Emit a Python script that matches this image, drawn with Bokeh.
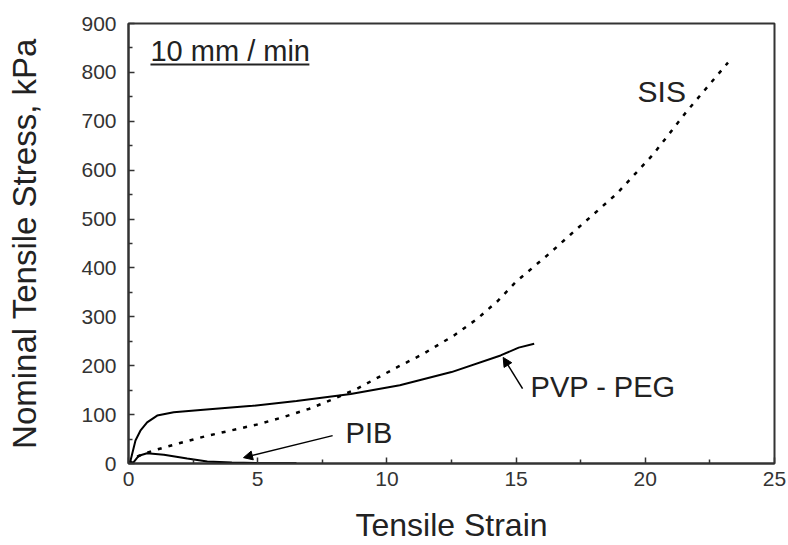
from bokeh.plotting import figure
from bokeh.models import FixedTicker, Label, Arrow, NormalHead
from bokeh.embed import file_html
from bokeh.resources import INLINE

# ---- data ----
sis_strain = [0, 0.3, 0.6, 1.0, 2.0, 3.0, 4.0, 5.0, 6.0, 7.0, 7.8, 8.85, 10.4, 11.4, 12.6, 13.5, 14.3, 15.0, 16.3, 17.1, 18.9, 20.3, 21.6, 23.2]
sis_stress = [0, 13, 20, 27, 42, 56, 68, 80, 95, 112, 129, 153, 197, 224, 262, 296, 333, 372, 430, 468, 552, 632, 720, 820]

pvp_strain = [0, 0.08, 0.27, 0.46, 0.72, 1.11, 1.75, 2.9, 4.8, 6.5, 8.6, 10.5, 12.5, 14.4, 15.1, 15.7]
pvp_stress = [0, 6, 47, 67, 84, 98, 105, 110, 118, 128, 142, 160, 187, 221, 237, 245]

pib_strain = [0, 0.2, 0.4, 0.72, 1.37, 2.27, 3.05, 4.0, 5.0, 6.5]
pib_stress = [0, 3, 16, 21, 18, 10, 4, 2, 1, 0.5]

x_ticks = [0, 5, 10, 15, 20, 25]
x_minor = [2.5, 7.5, 12.5, 17.5, 22.5]
y_ticks = [0, 100, 200, 300, 400, 500, 600, 700, 800, 900]
y_minor = [50, 150, 250, 350, 450, 550, 650, 750, 850]

FONT = "Liberation Sans"
INK = "#222222"

p = figure(width=788, height=545, x_range=(0, 25), y_range=(0, 900),
           output_backend="svg", toolbar_location=None,
           min_border_left=128, min_border_right=14,
           min_border_top=23, min_border_bottom=82)

p.xgrid.grid_line_color = None
p.ygrid.grid_line_color = None
p.outline_line_color = "#333333"
p.outline_line_width = 2
p.background_fill_color = "white"
p.border_fill_color = "white"

p.xaxis.ticker = FixedTicker(ticks=x_ticks, minor_ticks=x_minor)
p.yaxis.ticker = FixedTicker(ticks=y_ticks, minor_ticks=y_minor)

for ax in (p.xaxis[0], p.yaxis[0]):
    ax.axis_line_color = "#333333"
    ax.axis_line_width = 2
    ax.major_tick_in = 6
    ax.major_tick_out = 0
    ax.minor_tick_in = 4
    ax.minor_tick_out = 0
    ax.major_tick_line_color = "#333333"
    ax.minor_tick_line_color = "#333333"
    ax.major_tick_line_width = 1.5
    ax.minor_tick_line_width = 1.5
    ax.major_label_text_font = FONT
    ax.major_label_text_font_size = "21px"
    ax.major_label_text_color = "#333333"
    ax.axis_label_text_font = FONT
    ax.axis_label_text_font_style = "normal"
    ax.axis_label_text_color = INK

p.xaxis.axis_label = "Tensile Strain"
p.yaxis.axis_label = "Nominal Tensile Stress, kPa"
p.xaxis.axis_label_text_font_size = "32px"
p.yaxis.axis_label_text_font_size = "33px"
p.xaxis.major_label_standoff = 8
p.xaxis.axis_label_standoff = 18
p.yaxis.major_label_standoff = 12
p.yaxis.axis_label_standoff = 35

# curves
p.line(pvp_strain, pvp_stress, line_color="black", line_width=2)
p.line(pib_strain, pib_stress, line_color="black", line_width=2)
p.line(sis_strain, sis_stress, line_color="black", line_width=2.5, line_dash="4 7")

# annotations
def lab(x, y, t, size):
    p.add_layout(Label(x=x, y=y, text=t, text_font=FONT, text_font_size=size,
                       text_color=INK, text_baseline="alphabetic", text_align="left"))

lab(19.7, 760, "SIS", "30px")
lab(15.56, 157, "PVP - PEG", "29px")
lab(8.4, 62, "PIB", "29px")
lab(0.85, 844, "10 mm / min", "29px")
p.segment(x0=[0.85], y0=[816], x1=[7.0], y1=[816], line_color=INK, line_width=2)

p.add_layout(Arrow(end=NormalHead(size=9, fill_color="black", line_color="black"),
                   x_start=7.9, y_start=57, x_end=4.45, y_end=12,
                   line_color="black", line_width=1.5))
p.add_layout(Arrow(end=NormalHead(size=9, fill_color="black", line_color="black"),
                   x_start=15.25, y_start=153, x_end=14.5, y_end=217,
                   line_color="black", line_width=1.5))

open("out.html", "w").write(file_html(p, INLINE))
